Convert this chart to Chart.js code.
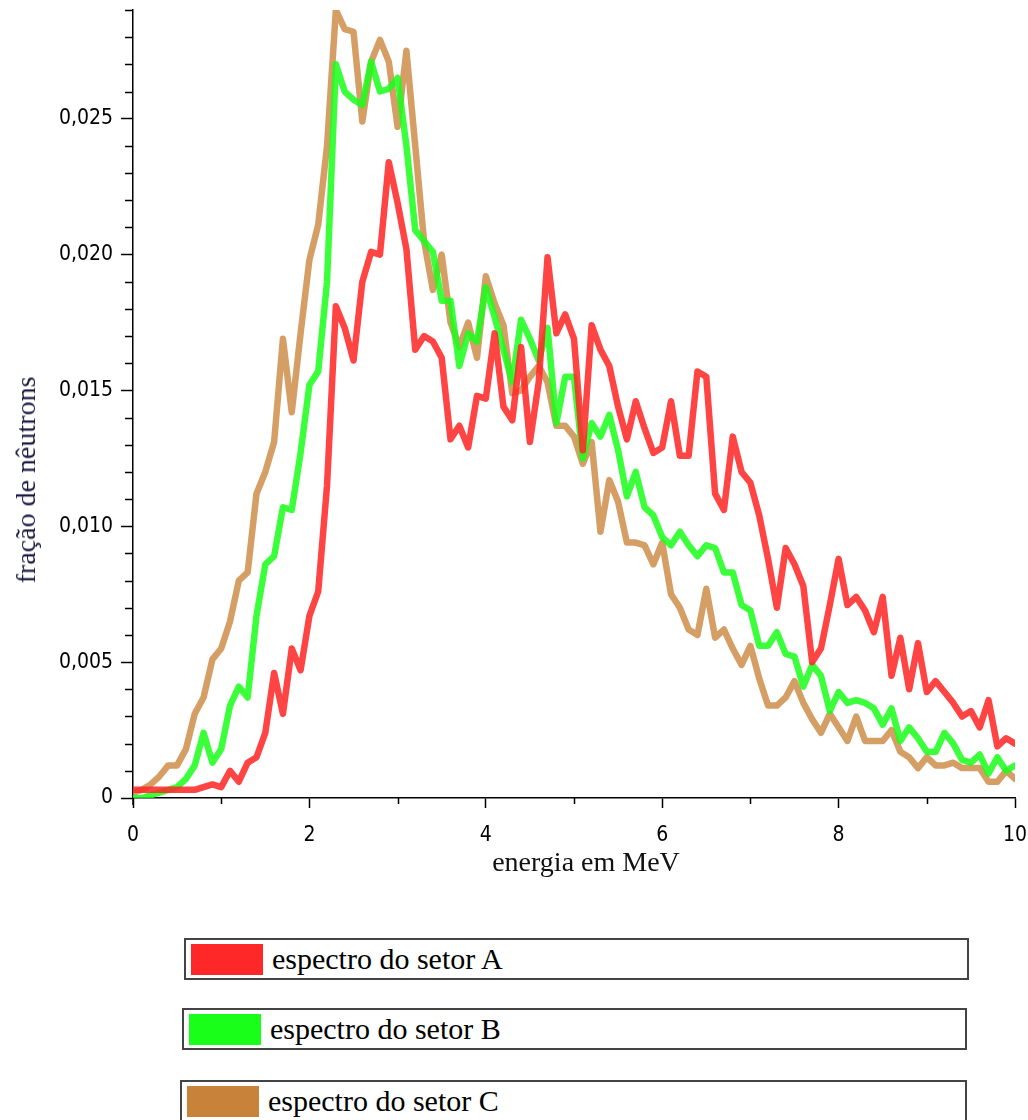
<!DOCTYPE html>
<html>
<head>
<meta charset="utf-8">
<script src="https://cdn.jsdelivr.net/npm/chart.js@4/dist/chart.umd.min.js"></script>
<style>
  html, body { margin: 0; padding: 0; background: #ffffff; }
  body { width: 1028px; height: 1120px; position: relative; overflow: hidden; }
  #wrap { position: absolute; left: 0; top: 0; width: 1028px; height: 900px; }
  .axis-title { position: absolute; font-family: "Liberation Serif", "Times New Roman", serif; color: #111; white-space: nowrap; line-height: 32px; }
  #xtitle { left: 586px; top: 846px; font-size: 28px; transform: translateX(-50%); }
  #ytitle { left: 26px; top: 480px; font-size: 28px; color: #1a1a40; transform: translate(-50%, -50%) rotate(-90deg); }
  .lg { position: absolute; box-sizing: border-box; border: 2px solid #444; height: 42px; background: #fff; }
  .lg .sw { position: absolute; left: 5px; top: 4px; width: 72px; height: 31px; }
  .lg .tx { position: absolute; left: 86px; top: 0px; font-family: "Liberation Serif", "Times New Roman", serif; font-size: 30px; color: #000; line-height: 38px; white-space: nowrap; }
</style>
</head>
<body>
<div id="wrap"><canvas id="c" width="1028" height="900"></canvas></div>
<div id="xtitle" class="axis-title">energia em MeV</div>
<div id="ytitle" class="axis-title">fração de nêutrons</div>
<div id="legend"></div>
<script>
const energies = [0.0,0.1,0.2,0.3,0.4,0.5,0.6,0.7,0.8,0.9,
  1.0,1.1,1.2,1.3,1.4,1.5,1.6,1.7,1.8,1.9,
  2.0,2.1,2.2,2.3,2.4,2.5,2.6,2.7,2.8,2.9,
  3.0,3.1,3.2,3.3,3.4,3.5,3.6,3.7,3.8,3.9,
  4.0,4.1,4.2,4.3,4.4,4.5,4.6,4.7,4.8,4.9,
  5.0,5.1,5.2,5.3,5.4,5.5,5.6,5.7,5.8,5.9,
  6.0,6.1,6.2,6.3,6.4,6.5,6.6,6.7,6.8,6.9,
  7.0,7.1,7.2,7.3,7.4,7.5,7.6,7.7,7.8,7.9,
  8.0,8.1,8.2,8.3,8.4,8.5,8.6,8.7,8.8,8.9,
  9.0,9.1,9.2,9.3,9.4,9.5,9.6,9.7,9.8,9.9,
  10.0];

const setorA = [0.0003,0.0003,0.0003,0.0003,0.0003,0.0003,0.0003,0.0003,0.0004,0.0005,
  0.0004,0.0010,0.0006,0.0013,0.0015,0.0024,0.0046,0.0031,0.0055,0.0047,
  0.0067,0.0076,0.0115,0.0181,0.0173,0.0161,0.0190,0.0201,0.0200,0.0234,
  0.0219,0.0202,0.0165,0.0170,0.0168,0.0162,0.0132,0.0137,0.0129,0.0148,
  0.0147,0.0171,0.0144,0.0139,0.0166,0.0131,0.0153,0.0199,0.0171,0.0178,
  0.0169,0.0128,0.0174,0.0165,0.0159,0.0144,0.0132,0.0146,0.0136,0.0127,
  0.0129,0.0146,0.0126,0.0126,0.0157,0.0155,0.0112,0.0106,0.0133,0.0120,
  0.0116,0.0104,0.0088,0.0070,0.0092,0.0086,0.0078,0.0050,0.0055,0.0071,
  0.0088,0.0071,0.0074,0.0069,0.0061,0.0074,0.0045,0.0059,0.0040,0.0057,
  0.0039,0.0043,0.0039,0.0035,0.0030,0.0032,0.0026,0.0036,0.0019,0.0022,
  0.0020];

const setorB = [0.0000,0.0000,0.0001,0.0002,0.0003,0.0004,0.0007,0.0012,0.0024,0.0013,
  0.0018,0.0034,0.0041,0.0037,0.0067,0.0086,0.0089,0.0107,0.0106,0.0127,
  0.0152,0.0157,0.0190,0.0270,0.0260,0.0257,0.0255,0.0271,0.0260,0.0261,
  0.0265,0.0240,0.0209,0.0205,0.0201,0.0183,0.0183,0.0159,0.0171,0.0168,
  0.0188,0.0177,0.0165,0.0153,0.0176,0.0169,0.0161,0.0173,0.0138,0.0155,
  0.0155,0.0125,0.0138,0.0133,0.0141,0.0128,0.0111,0.0120,0.0107,0.0104,
  0.0096,0.0093,0.0098,0.0093,0.0089,0.0093,0.0092,0.0083,0.0083,0.0071,
  0.0069,0.0056,0.0056,0.0061,0.0053,0.0052,0.0041,0.0049,0.0045,0.0032,
  0.0039,0.0035,0.0036,0.0035,0.0033,0.0027,0.0033,0.0021,0.0026,0.0022,
  0.0017,0.0017,0.0024,0.0020,0.0014,0.0013,0.0016,0.0009,0.0015,0.0010,
  0.0012];

const setorC = [0.0002,0.0003,0.0005,0.0008,0.0012,0.0012,0.0018,0.0031,0.0037,0.0051,
  0.0055,0.0065,0.0080,0.0083,0.0112,0.0120,0.0131,0.0169,0.0142,0.0171,
  0.0198,0.0211,0.0240,0.0290,0.0283,0.0282,0.0249,0.0271,0.0279,0.0271,
  0.0247,0.0275,0.0240,0.0205,0.0187,0.0200,0.0175,0.0166,0.0175,0.0162,
  0.0192,0.0182,0.0174,0.0149,0.0150,0.0155,0.0159,0.0153,0.0137,0.0137,
  0.0133,0.0123,0.0131,0.0098,0.0117,0.0109,0.0094,0.0094,0.0093,0.0086,
  0.0094,0.0075,0.0070,0.0062,0.0060,0.0077,0.0059,0.0062,0.0055,0.0049,
  0.0056,0.0044,0.0034,0.0034,0.0037,0.0043,0.0035,0.0029,0.0024,0.0031,
  0.0026,0.0021,0.0030,0.0021,0.0021,0.0021,0.0025,0.0017,0.0015,0.0011,
  0.0015,0.0012,0.0012,0.0013,0.0011,0.0011,0.0011,0.0006,0.0006,0.0010,
  0.0007];

const seriesLabels = ["espectro do setor A", "espectro do setor B", "espectro do setor C"];
const xTickValues = [0, 2, 4, 6, 8, 10];
const xMinorValues = [1, 3, 5, 7, 9];
const yTickValues = [0, 0.005, 0.010, 0.015, 0.020, 0.025];

const lineColors = ["rgba(255,40,40,0.87)", "rgba(25,255,25,0.85)", "rgba(200,128,52,0.76)"];
const swatchColors = ["#ff2828", "#19ff19", "#c8823a"];
const legendBoxes = [
  { left: 184, top: 938, width: 785 },
  { left: 182, top: 1008, width: 785 },
  { left: 180, top: 1080, width: 787 }
];

function pts(vals) { return energies.map((e, i) => ({ x: e, y: vals[i] })); }
const allSeries = [setorA, setorB, setorC];

const fmtY = v => {
  if (Math.abs(v) < 1e-9) return "0";
  return v.toFixed(3).replace(".", ",");
};

const minorTicks = {
  id: "minorTicks",
  afterDraw(chart) {
    const ctx = chart.ctx;
    const xs = chart.scales.x, ys = chart.scales.y;
    ctx.save();
    ctx.strokeStyle = "#000";
    ctx.lineWidth = 1.5;
    ctx.beginPath();
    for (let i = 1; i <= 29; i++) {
      if (i % 5 === 0) continue;
      const y = Math.round(ys.getPixelForValue(i / 1000)) + 0.5;
      ctx.moveTo(xs.left - 8, y);
      ctx.lineTo(xs.left, y);
    }
    xMinorValues.forEach(v => {
      const x = Math.round(xs.getPixelForValue(v)) + 0.5;
      ctx.moveTo(x, ys.bottom);
      ctx.lineTo(x, ys.bottom + 6);
    });
    ctx.moveTo(xs.left, ys.bottom);
    ctx.lineTo(xs.left, ys.bottom + 7);
    ctx.stroke();
    ctx.restore();
  }
};

const tickFont = { family: "'DejaVu Sans Condensed', 'DejaVu Sans', sans-serif", size: 21 };

const chart = new Chart(document.getElementById("c"), {
  type: "line",
  data: {
    datasets: allSeries.map((s, i) => ({
      label: seriesLabels[i],
      data: pts(s),
      borderColor: lineColors[i],
      backgroundColor: lineColors[i],
      borderWidth: 6.5,
      pointRadius: 0,
      tension: 0,
      borderJoinStyle: "round",
      borderCapStyle: "round",
      fill: false
    }))
  },
  options: {
    responsive: false,
    animation: false,
    layout: { padding: { left: 0, right: 13, top: 10, bottom: 0 } },
    plugins: { legend: { display: false }, tooltip: { enabled: false } },
    scales: {
      x: {
        type: "linear",
        min: 0, max: 10,
        afterBuildTicks: s => { s.ticks = xTickValues.map(v => ({ value: v })); },
        afterFit: s => { s.height = 102; s.paddingLeft = 0; s.paddingRight = 0; s.paddingTop = 0; s.paddingBottom = 0; },
        grid: { drawOnChartArea: false, color: "#000", tickLength: 10, tickWidth: 1.5 },
        border: { display: true, color: "#000", width: 1.5 },
        ticks: {
          color: "#000",
          padding: 15,
          maxRotation: 0,
          font: tickFont,
          callback: v => String(v)
        }
      },
      y: {
        type: "linear",
        min: 0, max: 0.029,
        afterBuildTicks: s => { s.ticks = yTickValues.map(v => ({ value: v })); },
        afterFit: s => { s.width = 133; s.paddingLeft = 0; s.paddingRight = 0; s.paddingTop = 0; s.paddingBottom = 0; },
        grid: { drawOnChartArea: false, color: "#000", tickLength: 12, tickWidth: 1.5 },
        border: { display: true, color: "#000", width: 1.5 },
        ticks: {
          color: "#000",
          padding: 8,
          font: tickFont,
          callback: v => fmtY(v)
        }
      }
    }
  },
  plugins: [minorTicks]
});

const legendEl = document.getElementById("legend");
chart.data.datasets.forEach((ds, i) => {
  const b = legendBoxes[i];
  const box = document.createElement("div");
  box.className = "lg";
  box.style.left = b.left + "px";
  box.style.top = b.top + "px";
  box.style.width = b.width + "px";
  const sw = document.createElement("div");
  sw.className = "sw";
  sw.style.background = swatchColors[i];
  const tx = document.createElement("div");
  tx.className = "tx";
  tx.textContent = ds.label;
  box.appendChild(sw);
  box.appendChild(tx);
  legendEl.appendChild(box);
});
</script>
</body>
</html>
